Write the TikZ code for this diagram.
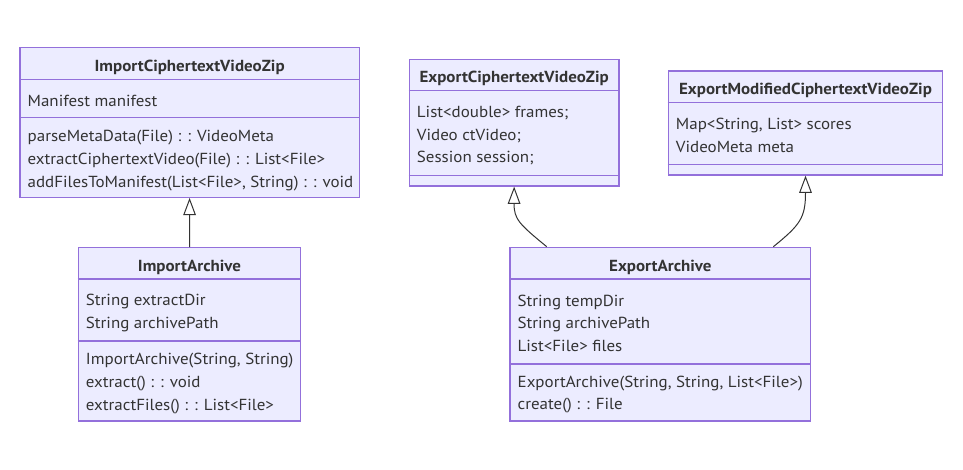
\documentclass[tikz,border=0pt]{standalone}
\usepackage{fontspec}
\setmainfont[FakeStretch=1.06]{PT Sans}
\usetikzlibrary{positioning,fit,calc,arrows.meta}
\definecolor{clsfill}{HTML}{ECECFF}
\definecolor{clsline}{HTML}{9370DB}
\definecolor{clstext}{HTML}{333333}
\tikzset{classbox/.style={draw=clsline, fill=clsfill, line width=0.9pt, inner sep=0pt}}
\tikzset{divider/.style={draw=clsline, line width=0.9pt}}
\tikzset{classtitle/.style={anchor=base, inner sep=0pt, font=\fontsize{12}{17}\selectfont\bfseries, text=clstext}}
% multi-line members: base anchor sits on the last line
\tikzset{member/.style={anchor=base west, inner sep=0pt, align=left, font=\fontsize{12}{17}\selectfont, text=clstext}}
\tikzset{inherit/.style={draw=clstext, line width=0.75pt, -{Triangle[fill=white, length=13pt, width=9.5pt]}}}

\begin{document}
\begin{tikzpicture}[x=0.75pt, y=-0.75pt]
\useasboundingbox (0,0) rectangle (963,469);
% import side
\node[classbox, fit={(20,47.3) (359.3,197.3)}] (icvz) {};
\draw[divider] (icvz.west |- 0,79.3) -- (icvz.east |- 0,79.3);
\draw[divider] (icvz.west |- 0,117.7) -- (icvz.east |- 0,117.7);
\node[classtitle] (icvz-title) at (icvz.north |- 0,71) {ImportCiphertextVideoZip};
\node[member] (icvz-attr) at ($(icvz.west |- 0,106)+(8,0)$) {Manifest manifest};
\node[member] (icvz-ops) at ($(icvz.west |- 0,187.1)+(8,0)$) {parseMetaData(File) : : VideoMeta\\extractCiphertextVideo(File) : : List<File>\\addFilesToManifest(List<File>, String) : : void};

\node[classbox, fit={(78.3,247.7) (300.7,421)}] (ia) {};
\draw[divider] (ia.west |- 0,279) -- (ia.east |- 0,279);
\draw[divider] (ia.west |- 0,341) -- (ia.east |- 0,341);
\node[classtitle] (ia-title) at (ia.north |- 0,271.5) {ImportArchive};
\node[member] (ia-attr) at ($(ia.west |- 0,328.5)+(8,0)$) {String extractDir\\String archivePath};
\node[member] (ia-ops) at ($(ia.west |- 0,410.2)+(8,0)$) {ImportArchive(String, String)\\extract() : : void\\extractFiles() : : List<File>};

% export side
\node[classbox, fit={(409.3,59.3) (619,186)}] (ecvz) {};
\draw[divider] (ecvz.west |- 0,90.7) -- (ecvz.east |- 0,90.7);
\draw[divider] (ecvz.west |- 0,175.7) -- (ecvz.east |- 0,175.7);
\node[classtitle] (ecvz-title) at (ecvz.north |- 0,82.3) {ExportCiphertextVideoZip};
\node[member] (ecvz-attr) at ($(ecvz.west |- 0,162.7)+(8,0)$) {List<double> frames;\\Video ctVideo;\\Session session;};

\node[classbox, fit={(668.3,71) (942.7,175)}] (emcvz) {};
\draw[divider] (emcvz.west |- 0,102.3) -- (emcvz.east |- 0,102.3);
\draw[divider] (emcvz.west |- 0,164.3) -- (emcvz.east |- 0,164.3);
\node[classtitle] (emcvz-title) at (emcvz.north |- 0,94.3) {ExportModifiedCiphertextVideoZip};
\node[member] (emcvz-attr) at ($(emcvz.west |- 0,152)+(8,0)$) {Map<String, List> scores\\VideoMeta meta};

\node[classbox, fit={(510,247.3) (810.7,421)}] (ea) {};
\draw[divider] (ea.west |- 0,279) -- (ea.east |- 0,279);
\draw[divider] (ea.west |- 0,364) -- (ea.east |- 0,364);
\node[classtitle] (ea-title) at (ea.north |- 0,271) {ExportArchive};
\node[member] (ea-attr) at ($(ea.west |- 0,351.5)+(8,0)$) {String tempDir\\String archivePath\\List<File> files};
\node[member] (ea-ops) at ($(ea.west |- 0,409.8)+(8,0)$) {ExportArchive(String, String, List<File>)\\create() : : File};

% inheritance
\draw[inherit] (ia) -- (icvz);
\draw[inherit] ($(ea.north)+(-113.6,0)$) .. controls (519,224) and (514,219) .. (ecvz.south);
\draw[inherit] ($(ea.north)+(113,0)$) .. controls (800,225) and (805.5,218) .. (emcvz.south);
\end{tikzpicture}
\end{document}
